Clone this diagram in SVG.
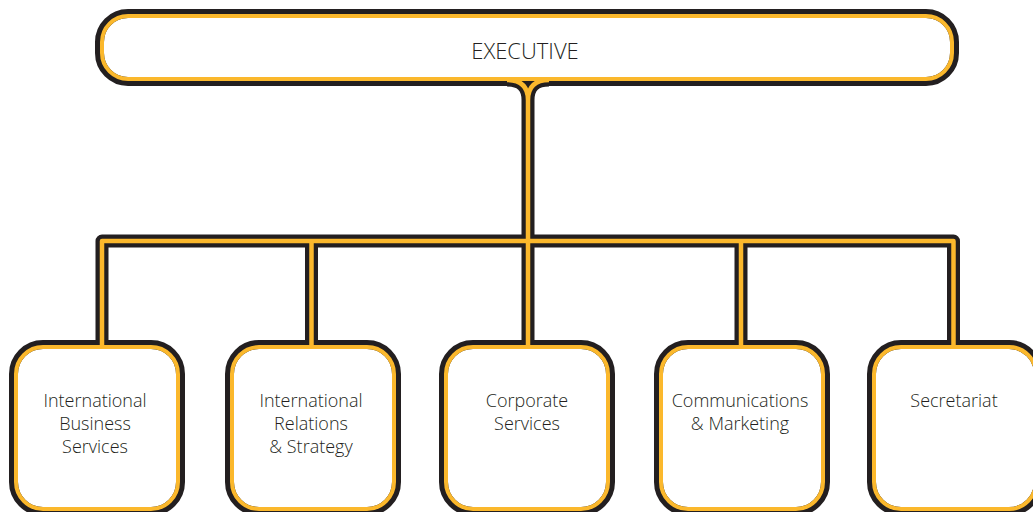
<svg xmlns="http://www.w3.org/2000/svg" width="1033" height="512" viewBox="0 0 1033 512">
  <style>
    .dk { fill: none; stroke: #231f20; stroke-width: 13; stroke-linejoin: round; }
    .yl { fill: none; stroke: #fbb82c; stroke-width: 4.5; stroke-linejoin: round; }
    .bo { fill: #ffffff; stroke: #231f20; stroke-width: 9; }
    .bi { fill: none; stroke: #fbb82c; stroke-width: 4; }
    .t { font-family: "Open Sans", "Liberation Sans", sans-serif; font-weight: 300; fill: #231f20; text-anchor: middle; }
    .tb { font-size: 18px; }
    .te { font-size: 22px; }
  </style>
  <defs>
    <path id="conn" d="M 507,80 Q 528,80 528,100 M 549,80 Q 528,80 528,100 M 528,100 V 241 M 102,347 V 241 H 953.5 V 347 M 311.5,241 V 347 M 528,241 V 347 M 741,241 V 347"/>
  </defs>
  <g id="connectors-under">
    <use href="#conn" class="dk"/>
  </g>
  <g id="executive">
    <rect class="bo" x="99.5" y="13.5" width="855" height="68" rx="28.5"/>
    <rect class="bi" x="102" y="16" width="850" height="63" rx="26"/>
    <text class="t te" x="525" y="59">EXECUTIVE</text>
  </g>
  <g id="ibs">
    <rect class="bo" x="13.5" y="344.5" width="167" height="167" rx="29.5"/>
    <rect class="bi" x="16" y="347" width="162" height="162" rx="27"/>
    <text class="t tb" x="95" y="407">International</text>
    <text class="t tb" x="95" y="430">Business</text>
    <text class="t tb" x="95" y="453">Services</text>
  </g>
  <g id="irs">
    <rect class="bo" x="229.5" y="344.5" width="167" height="167" rx="29.5"/>
    <rect class="bi" x="232" y="347" width="162" height="162" rx="27"/>
    <text class="t tb" x="311" y="407">International</text>
    <text class="t tb" x="311" y="430">Relations</text>
    <text class="t tb" x="311" y="453">&amp; Strategy</text>
  </g>
  <g id="cs">
    <rect class="bo" x="443.5" y="344.5" width="167" height="167" rx="29.5"/>
    <rect class="bi" x="446" y="347" width="162" height="162" rx="27"/>
    <text class="t tb" x="527" y="407">Corporate</text>
    <text class="t tb" x="527" y="430">Services</text>
  </g>
  <g id="cm">
    <rect class="bo" x="658.5" y="344.5" width="167" height="167" rx="29.5"/>
    <rect class="bi" x="661" y="347" width="162" height="162" rx="27"/>
    <text class="t tb" x="740" y="407">Communications</text>
    <text class="t tb" x="740" y="430">&amp; Marketing</text>
  </g>
  <g id="sec">
    <rect class="bo" x="871.5" y="344.5" width="167" height="167" rx="29.5"/>
    <rect class="bi" x="874" y="347" width="162" height="162" rx="27"/>
    <text class="t tb" x="954" y="407">Secretariat</text>
  </g>
  <g id="connectors">
    <use href="#conn" class="yl"/>
  </g>
</svg>
